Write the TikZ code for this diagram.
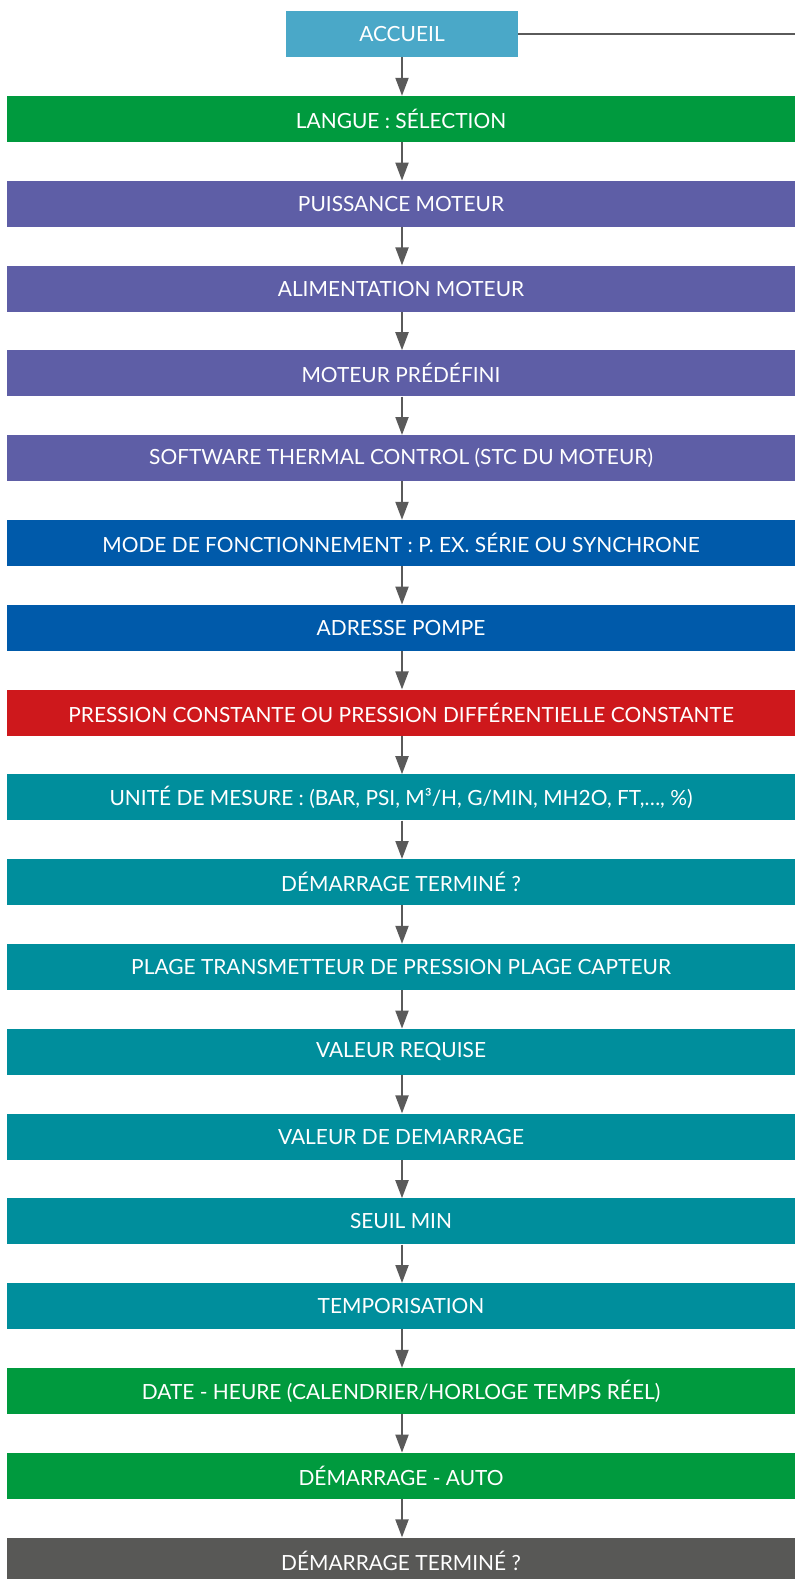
\documentclass[tikz,border=0pt]{standalone}
\usepackage{fontspec}
\setmainfont{Lato}
\usetikzlibrary{arrows.meta}
\definecolor{cAcc}{RGB}{74,168,200}
\definecolor{cGreen}{RGB}{0,154,62}
\definecolor{cPurple}{RGB}{94,94,166}
\definecolor{cBlue}{RGB}{0,90,170}
\definecolor{cRed}{RGB}{206,24,28}
\definecolor{cTeal}{RGB}{0,142,156}
\definecolor{cGray}{RGB}{88,88,86}
\definecolor{cLine}{RGB}{90,90,90}
\begin{document}
\begin{tikzpicture}[x=1pt,y=-1pt,
  box/.style={draw=none,fill=#1,text=white,minimum width=788pt,minimum height=46pt,inner sep=0pt,
    font=\fontsize{20.9}{24}\selectfont,anchor=center},
  flow/.style={draw=cLine,line width=2pt,-{Triangle[width=13pt,length=18pt]}}]
\useasboundingbox (0,0) rectangle (795,1579);
\node[box=cAcc,minimum width=232pt] (n0) at (402,34) {ACCUEIL};
\node[box=cGreen]  (n1)  at (401,119)    {LANGUE : SÉLECTION};
\node[box=cPurple] (n2)  at (401,203.8)  {PUISSANCE MOTEUR};
\node[box=cPurple] (n3)  at (401,288.6)  {ALIMENTATION MOTEUR};
\node[box=cPurple] (n4)  at (401,373.4)  {MOTEUR PRÉDÉFINI};
\node[box=cPurple] (n5)  at (401,458.2)  {SOFTWARE THERMAL CONTROL (STC DU MOTEUR)};
\node[box=cBlue]   (n6)  at (401,543)    {MODE DE FONCTIONNEMENT : P. EX. SÉRIE OU SYNCHRONE};
\node[box=cBlue]   (n7)  at (401,627.8)  {ADRESSE POMPE};
\node[box=cRed]    (n8)  at (401,712.6)  {PRESSION CONSTANTE OU PRESSION DIFFÉRENTIELLE CONSTANTE};
\node[box=cTeal]   (n9)  at (401,797.4)  {UNITÉ DE MESURE : (BAR, PSI, M³/H, G/MIN, MH2O, FT,…, \%)};
\node[box=cTeal]   (n10) at (401,882.2)  {DÉMARRAGE TERMINÉ ?};
\node[box=cTeal]   (n11) at (401,967)    {PLAGE TRANSMETTEUR DE PRESSION PLAGE CAPTEUR};
\node[box=cTeal]   (n12) at (401,1051.8) {VALEUR REQUISE};
\node[box=cTeal]   (n13) at (401,1136.6) {VALEUR DE DEMARRAGE};
\node[box=cTeal]   (n14) at (401,1221.4) {SEUIL MIN};
\node[box=cTeal]   (n15) at (401,1306.2) {TEMPORISATION};
\node[box=cGreen]  (n16) at (401,1391)   {DATE - HEURE (CALENDRIER/HORLOGE TEMPS RÉEL)};
\node[box=cGreen]  (n17) at (401,1475.8) {DÉMARRAGE - AUTO};
\node[box=cGray]   (n18) at (401,1560.6) {DÉMARRAGE TERMINÉ ?};
\coordinate (rightend) at (795,34);
\draw[cLine,line width=2.5pt] (n0.east) -- (rightend);
\foreach \a/\b in {0/1,1/2,2/3,3/4,4/5,5/6,6/7,7/8,8/9,9/10,10/11,11/12,12/13,13/14,14/15,15/16,16/17,17/18}{
  \draw[flow] (n\a.south -| 402,0) -- (n\b.north -| 402,0);
}
\end{tikzpicture}
\end{document}
